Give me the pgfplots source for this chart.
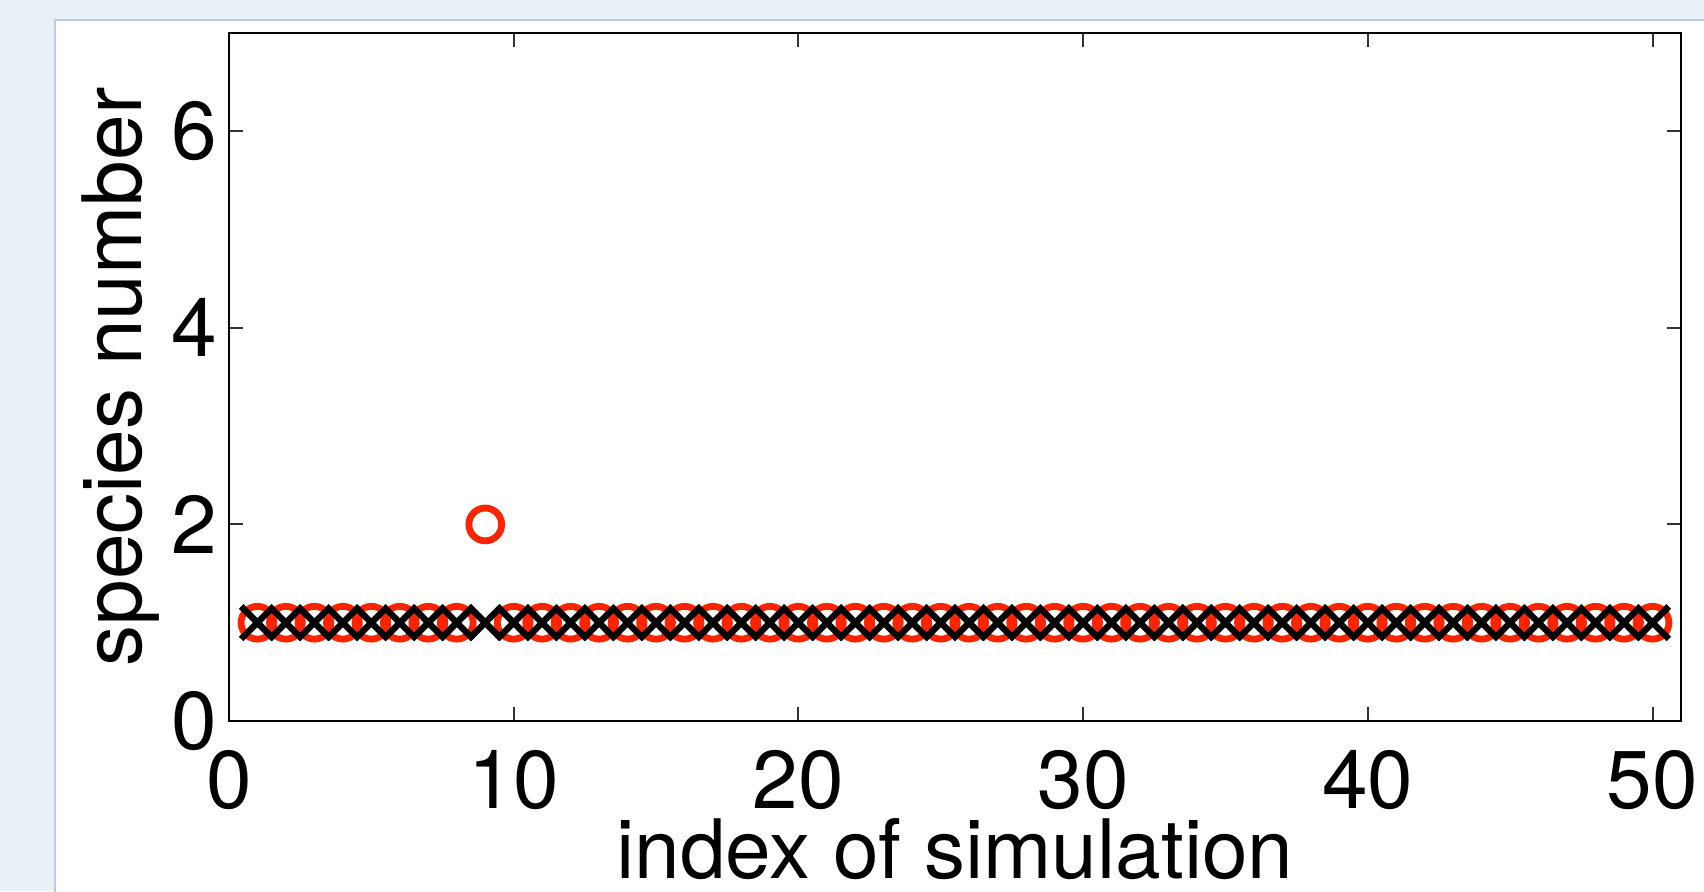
\documentclass[border=0pt]{standalone}
\usepackage{fontspec}
\setmainfont{TeX Gyre Heros}
\usepackage{pgfplots}
\pgfplotsset{compat=1.18}
\definecolor{bgblue}{RGB}{232,240,248}
\definecolor{panelline}{RGB}{184,204,228}
\definecolor{mred}{RGB}{255,36,0}
\newcommand{\bigfont}{\fontsize{41}{49}\selectfont}
\begin{document}
\begin{tikzpicture}
\useasboundingbox (-114.5pt,-85pt) rectangle (737.5pt,360.5pt);
\fill[bgblue] (-114.5pt,-85pt) rectangle (737.5pt,360.5pt);
\filldraw[fill=white,draw=panelline,line width=1.2pt] (-87pt,-120pt) rectangle (780pt,350.5pt);
\begin{axis}[
  at={(0,0)}, anchor=south west,
  scale only axis, width=726pt, height=344pt,
  xmin=0, xmax=51, ymin=0, ymax=7,
  xtick={0,10,20,30,40,50}, ytick={0,2,4,6},
  xtick pos=both, ytick pos=both,
  xticklabel pos=lower, yticklabel pos=left,
  tick align=inside, major tick length=7pt,
  every tick/.style={line width=1pt, black!80},
  axis line style={line width=1.3pt},
  /pgf/number format/assume math mode=true,
  ticklabel style={font=\bigfont},
  xticklabel style={inner sep=0pt, yshift=-14.5pt},
  yticklabel style={inner sep=0pt, xshift=-6pt},
  label style={font=\bigfont},
  xlabel={index of simulation},
  ylabel={species number},
  xlabel style={at={(axis description cs:0.5,-0.2282)}, anchor=base},
  ylabel style={at={(axis description cs:-0.05992,0.5)}, anchor=base},
]
% species number found (red circles)
\addplot[only marks, mark=o, mark size=8.2pt, mred, mark options={line width=3.4pt}] coordinates {
(1,1)(2,1)(3,1)(4,1)(5,1)(6,1)(7,1)(8,1)(9,2)(10,1)
(11,1)(12,1)(13,1)(14,1)(15,1)(16,1)(17,1)(18,1)(19,1)(20,1)
(21,1)(22,1)(23,1)(24,1)(25,1)(26,1)(27,1)(28,1)(29,1)(30,1)
(31,1)(32,1)(33,1)(34,1)(35,1)(36,1)(37,1)(38,1)(39,1)(40,1)
(41,1)(42,1)(43,1)(44,1)(45,1)(46,1)(47,1)(48,1)(49,1)(50,1)};
% true species number (black crosses)
\addplot[only marks, mark=x, mark size=11.5pt, black, mark options={line width=3.2pt}] coordinates {
(1,1)(2,1)(3,1)(4,1)(5,1)(6,1)(7,1)(8,1)(9,1)(10,1)
(11,1)(12,1)(13,1)(14,1)(15,1)(16,1)(17,1)(18,1)(19,1)(20,1)
(21,1)(22,1)(23,1)(24,1)(25,1)(26,1)(27,1)(28,1)(29,1)(30,1)
(31,1)(32,1)(33,1)(34,1)(35,1)(36,1)(37,1)(38,1)(39,1)(40,1)
(41,1)(42,1)(43,1)(44,1)(45,1)(46,1)(47,1)(48,1)(49,1)(50,1)};
\end{axis}
\end{tikzpicture}
\end{document}
